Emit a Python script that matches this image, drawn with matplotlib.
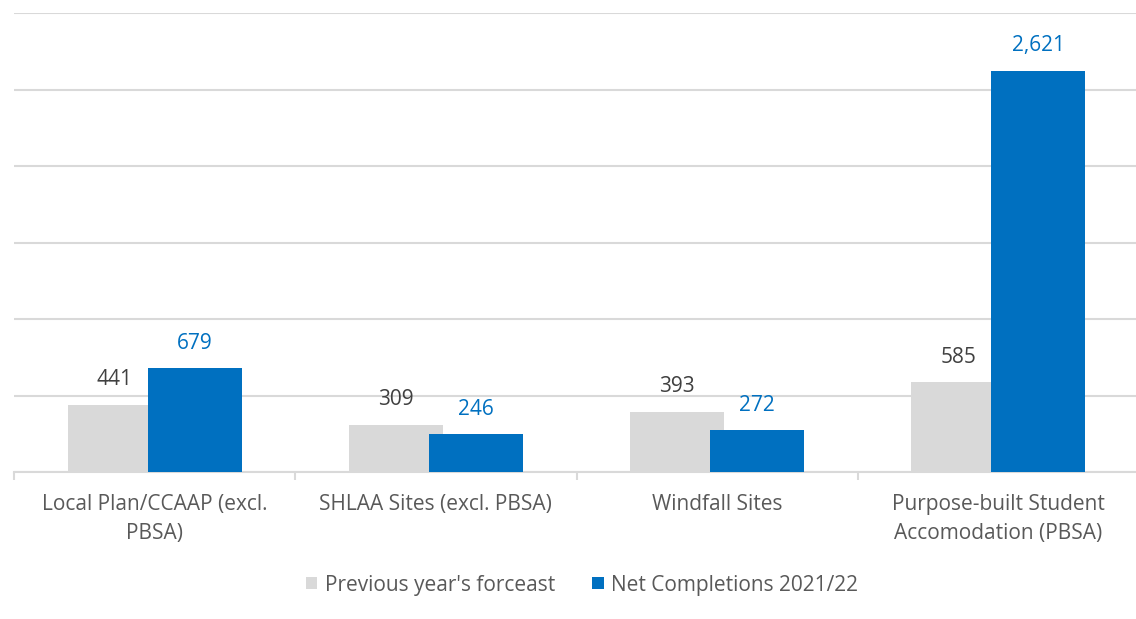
import matplotlib
matplotlib.use("Agg")
import matplotlib.pyplot as plt
import numpy as np

categories = ["Local Plan/CCAAP (excl.\nPBSA)", "SHLAA Sites (excl. PBSA)",
              "Windfall Sites", "Purpose-built Student\nAccomodation (PBSA)"]
previous_forecast = [441, 309, 393, 585]
net_completions = [679, 246, 272, 2621]
series_names = ["Previous year's forceast", "Net Completions 2021/22"]

plt.rcParams['font.family'] = ['Open Sans', 'DejaVu Sans']

fig = plt.figure(figsize=(11.36, 6.19), dpi=100)
ax = fig.add_axes([14/1136, 1-472/619, (1139-14)/1136, (472-13)/619])

x = np.arange(len(categories))
w = 0.334
off = 0.142
grey = "#d9d9d9"
blue = "#0070c0"
b1 = ax.bar(x - off, previous_forecast, w, color=grey, label=series_names[0], zorder=2)
b2 = ax.bar(x + off, net_completions, w, color=blue, label=series_names[1], zorder=3)

for rect, v in zip(b1, previous_forecast):
    ax.annotate(f"{v:,}", (rect.get_x() + rect.get_width()/2, v), xytext=(0, 18),
                textcoords="offset points", ha="center", va="center",
                fontsize=15, color="#404040")
for rect, v in zip(b2, net_completions):
    ax.annotate(f"{v:,}", (rect.get_x() + rect.get_width()/2, v), xytext=(0, 18),
                textcoords="offset points", ha="center", va="center",
                fontsize=15, color=blue)

ax.set_xlim(-0.5, len(categories) - 0.5)
ax.set_ylim(0, 3000)
ax.set_yticks(np.arange(0, 3001, 500))
ax.yaxis.grid(True, color="#d9d9d9", linewidth=1.5, zorder=0)
ax.set_axisbelow(True)
ax.tick_params(axis='y', left=False, labelleft=False)
for s in ["top", "right", "left"]:
    ax.spines[s].set_visible(False)
ax.spines["bottom"].set_color("#d9d9d9")
ax.spines["bottom"].set_linewidth(1.5)

ax.set_xticks(x)
ax.set_xticklabels(categories, fontsize=15, color="#595959", linespacing=1.5)
ax.tick_params(axis='x', which='major', length=0, pad=16)
ax.set_xticks(np.arange(-0.5, len(categories)), minor=True)
ax.tick_params(axis='x', which='minor', length=6, width=1.5, color="#d9d9d9")

leg = fig.legend(handles=[b1, b2], labels=series_names, loc="center",
                 bbox_to_anchor=(582/1136, 1-585/619), ncol=2, frameon=False,
                 fontsize=15, handlelength=0.55, handleheight=0.55, handletextpad=0.35,
                 columnspacing=1.8)
for t in leg.get_texts():
    t.set_color("#595959")

fig.savefig("out.png", dpi=100)
